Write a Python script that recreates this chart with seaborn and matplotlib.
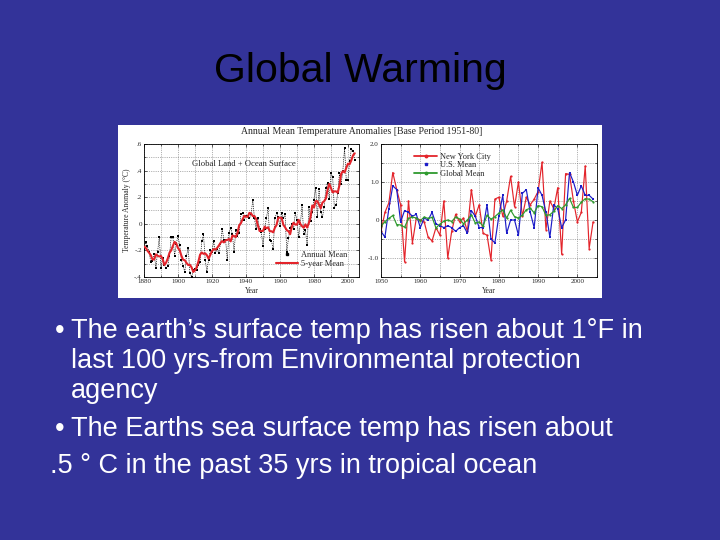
import numpy as np
import pandas as pd
import seaborn as sns
import matplotlib.pyplot as plt
from matplotlib.lines import Line2D
from matplotlib.patches import Rectangle
from matplotlib.ticker import MultipleLocator, FuncFormatter

# ---------------- data ----------------
global_years = list(range(1880, 2005))
global_annual = [
    -0.20, -0.14, -0.17, -0.21, -0.29, -0.28, -0.23, -0.33, -0.21, -0.10,
    -0.33, -0.26, -0.31, -0.33, -0.32, -0.24, -0.10, -0.10, -0.24, -0.15,
    -0.09, -0.16, -0.27, -0.32, -0.36, -0.24, -0.18, -0.37, -0.40, -0.35,
    -0.34, -0.35, -0.31, -0.29, -0.13, -0.08, -0.27, -0.36, -0.27, -0.20,
    -0.21, -0.13, -0.22, -0.19, -0.22, -0.15, -0.04, -0.12, -0.12, -0.27,
    -0.07, -0.03, -0.08, -0.21, -0.05, -0.09, -0.07, 0.07, 0.08, 0.03,
    0.06, 0.06, 0.04, 0.07, 0.18, 0.04, -0.04, 0.04, -0.04, -0.06,
    -0.17, -0.04, 0.04, 0.12, -0.12, -0.13, -0.19, 0.04, 0.08, 0.05,
    -0.02, 0.08, 0.04, 0.07, -0.21, -0.11, -0.03, 0.00, -0.04, 0.08,
    0.03, -0.10, 0.00, 0.14, -0.08, -0.05, -0.16, 0.13, 0.02, 0.09,
    0.18, 0.27, 0.05, 0.26, 0.09, 0.05, 0.13, 0.27, 0.31, 0.19,
    0.38, 0.35, 0.12, 0.14, 0.23, 0.38, 0.30, 0.40, 0.57, 0.33,
    0.33, 0.47, 0.56, 0.55, 0.48,
]
global_5yr = [
    -0.170, -0.180, -0.202, -0.218, -0.236, -0.268, -0.268, -0.230, -0.240, -0.246,
    -0.242, -0.266, -0.310, -0.292, -0.260, -0.218, -0.200, -0.166, -0.136, -0.148,
    -0.182, -0.198, -0.240, -0.270, -0.274, -0.294, -0.310, -0.308, -0.328, -0.362,
    -0.350, -0.328, -0.284, -0.232, -0.216, -0.226, -0.222, -0.236, -0.262, -0.234,
    -0.206, -0.190, -0.194, -0.182, -0.164, -0.144, -0.130, -0.140, -0.124, -0.122,
    -0.114, -0.132, -0.088, -0.092, -0.100, -0.070, -0.012, 0.004, 0.034, 0.060,
    0.054, 0.052, 0.082, 0.078, 0.058, 0.058, 0.036, -0.012, -0.054, -0.054,
    -0.054, -0.022, -0.034, -0.026, -0.056, -0.056, -0.064, -0.030, -0.008, 0.046,
    0.046, 0.044, -0.008, -0.026, -0.048, -0.056, -0.078, -0.020, 0.008, -0.006,
    -0.006, 0.030, -0.002, -0.018, -0.030, -0.004, -0.028, 0.006, 0.052, 0.138,
    0.122, 0.170, 0.170, 0.144, 0.116, 0.160, 0.170, 0.190, 0.256, 0.300,
    0.270, 0.236, 0.244, 0.244, 0.234, 0.290, 0.376, 0.396, 0.386, 0.420,
    0.452, 0.448, 0.478, 0.515, 0.530,
]

us_years = list(range(1950, 2005))
nyc_mean = [
    -0.30, 0.20, 0.45, 1.25, 0.80, 0.40, -1.10, 0.50, -0.60, 0.05,
    0.00, -0.05, -0.45, -0.55, -0.20, -0.40, 0.50, -1.00, -0.30, 0.15,
    -0.05, 0.05, -0.30, 0.80, 0.10, 0.40, -0.35, -0.40, -1.05, 0.55,
    0.60, 0.10, 0.50, 1.15, 0.35, 1.00, 0.10, 0.60, 0.40, 0.55,
    0.75, 1.52, -0.25, 0.50, 0.30, 0.85, -0.90, 1.22, 1.20, 0.50,
    -0.05, 0.20, 1.42, -0.75, -0.05,
]
us_mean = [
    -0.30, -0.45, 0.30, 0.90, 0.80, -0.05, 0.25, 0.20, 0.10, 0.15,
    -0.20, 0.05, 0.00, 0.20, -0.10, -0.15, -0.20, -0.15, -0.20, -0.30,
    -0.20, -0.15, -0.35, 0.25, 0.10, -0.20, -0.20, 0.40, -0.50, -0.60,
    0.10, 0.65, -0.35, 0.00, 0.00, -0.40, 0.70, 0.80, 0.20, -0.20,
    0.85, 0.65, 0.20, -0.45, 0.40, 0.30, -0.20, 0.00, 1.25, 1.00,
    0.65, 0.90, 0.65, 0.65, 0.55,
]
global_mean = global_annual[70:]

bullet_lines = [
    "The earth\u2019s surface temp has risen about 1\u00b0F in",
    "last 100 yrs-from Environmental protection",
    "agency",
    "The Earths sea surface temp has risen about",
    ".5 \u00b0 C in the past 35 yrs in tropical ocean",
]

# ---------------- styling ----------------
sns.set_style("ticks")
plt.rcParams['font.family'] = ['Liberation Sans', 'DejaVu Sans']
serif = ['Liberation Serif', 'DejaVu Serif']
bg = '#333399'
red = '#e3242b'
blue = '#1c1cc8'
green = '#2e9a2e'

fig = plt.figure(figsize=(7.2, 5.4), dpi=100, facecolor=bg)
W, H = 720, 540


def box(x0, y0, x1, y1):
    return [x0 / W, 1 - y1 / H, (x1 - x0) / W, (y1 - y0) / H]


# white picture behind the two panels
fig.patches.append(Rectangle((118 / W, 1 - 298 / H), (602 - 118) / W, (298 - 125) / H,
                             transform=fig.transFigure, facecolor='white', edgecolor='none',
                             zorder=-5))

ax1 = fig.add_axes(box(144, 144, 359, 277))
ax2 = fig.add_axes(box(381, 144, 597, 277))

# ---------------- left panel ----------------
df_g = pd.DataFrame({'year': global_years, 'anom': global_annual, 'five': global_5yr})

sns.lineplot(data=df_g, x='year', y='anom', ax=ax1, color='black', lw=0.45,
             linestyle=(0, (2, 1.5)), zorder=3)
sns.scatterplot(data=df_g, x='year', y='anom', ax=ax1, color='black', marker='s',
                s=2.2, linewidth=0, zorder=4)
sns.lineplot(data=df_g, x='year', y='five', ax=ax1, color=red, lw=1.5, zorder=5)

ax1.set_xlim(1880, 2006.5)
ax1.set_ylim(-0.4, 0.6)
ax1.xaxis.set_major_locator(MultipleLocator(20))
ax1.xaxis.set_minor_locator(MultipleLocator(10))
ax1.yaxis.set_major_locator(MultipleLocator(0.2))
ax1.yaxis.set_minor_locator(MultipleLocator(0.1))
ax1.yaxis.set_major_formatter(FuncFormatter(
    lambda v, p: '0' if abs(v) < 1e-9 else f'{v:.1f}'.replace('0.', '.')))
ax1.set_xlabel('Year', fontsize=5.5, family=serif, labelpad=2)
ax1.set_ylabel('Temperature Anomaly (\u00b0C)', fontsize=5.5, family=serif, labelpad=2)
ax1.text(1939, 0.45, 'Global Land + Ocean Surface', ha='center', va='center',
         fontsize=6.2, family=serif)
h1 = [Line2D([], [], color='black', marker='s', ls='none', ms=1.5),
      Line2D([], [], color=red, lw=1.5)]
ax1.legend(h1, ['Annual Mean', '5-year Mean'], loc='lower right', bbox_to_anchor=(0.97, 0.03),
           frameon=False, prop={'family': serif, 'size': 6}, handlelength=2.6,
           handletextpad=0.4, labelspacing=0.1, borderpad=0.1)

# ---------------- right panel ----------------
df_r = pd.DataFrame({'year': us_years, 'nyc': nyc_mean, 'us': us_mean, 'glob': global_mean})
sns.lineplot(data=df_r, x='year', y='nyc', ax=ax2, color=red, lw=0.85, marker='o', ms=1.6,
             markeredgewidth=0)
sns.lineplot(data=df_r, x='year', y='us', ax=ax2, color=blue, lw=0.85, marker='s', ms=1.6,
             markeredgewidth=0)
sns.lineplot(data=df_r, x='year', y='glob', ax=ax2, color=green, lw=0.85, marker='o', ms=1.6,
             markeredgewidth=0)

ax2.set_xlim(1950, 2005)
ax2.set_ylim(-1.5, 2.0)
ax2.xaxis.set_major_locator(MultipleLocator(10))
ax2.xaxis.set_minor_locator(MultipleLocator(5))
ax2.yaxis.set_major_locator(MultipleLocator(1.0))
ax2.yaxis.set_minor_locator(MultipleLocator(0.5))
ax2.yaxis.set_major_formatter(FuncFormatter(
    lambda v, p: '0' if abs(v) < 1e-9 else f'{v:.1f}'))
ax2.set_xlabel('Year', fontsize=5.5, family=serif, labelpad=2)
ax2.set_ylabel('')
h2 = [Line2D([], [], color=red, lw=1.3, marker='o', ms=1.8),
      Line2D([], [], color=blue, marker='s', ls='none', ms=1.8),
      Line2D([], [], color=green, lw=1.3, marker='o', ms=1.8)]
ax2.legend(h2, ['New York City', 'U.S. Mean', 'Global Mean'], loc='upper left',
           bbox_to_anchor=(0.13, 0.97), frameon=False, prop={'family': serif, 'size': 6},
           handlelength=2.8, handletextpad=0.3, labelspacing=0.05, borderpad=0.1)

for ax in (ax1, ax2):
    ax.set_facecolor('white')
    ax.grid(which='both', ls=(0, (2, 2)), lw=0.4, color='0.45')
    ax.tick_params(which='both', direction='in', top=True, right=True, length=2,
                   width=0.5, labelsize=5, pad=1.5)
    ax.tick_params(which='minor', length=1.2)
    for lab in ax.get_xticklabels() + ax.get_yticklabels():
        lab.set_family(serif)
    for s in ax.spines.values():
        s.set_visible(True)
        s.set_linewidth(0.6)
        s.set_color('black')

fig.text(362 / W, 1 - 131 / H, 'Annual Mean Temperature Anomalies [Base Period 1951-80]',
         ha='center', va='center', fontsize=7, family=serif)

# ---------------- slide text ----------------
fig.text(0.5, 1 - 82 / H, 'Global Warming', ha='center', va='baseline', fontsize=29.5,
         color='black')
txt = dict(va='baseline', fontsize=19.5, color='white')
fig.text(55 / W, 1 - 338 / H, '\u2022', **txt)
fig.text(71 / W, 1 - 338 / H, bullet_lines[0], **txt)
fig.text(71 / W, 1 - 368 / H, bullet_lines[1], **txt)
fig.text(71 / W, 1 - 398 / H, bullet_lines[2], **txt)
fig.text(55 / W, 1 - 436 / H, '\u2022', **txt)
fig.text(71 / W, 1 - 436 / H, bullet_lines[3], **txt)
fig.text(50 / W, 1 - 473 / H, bullet_lines[4], **txt)

fig.savefig('out.png', dpi=100, facecolor=bg)
